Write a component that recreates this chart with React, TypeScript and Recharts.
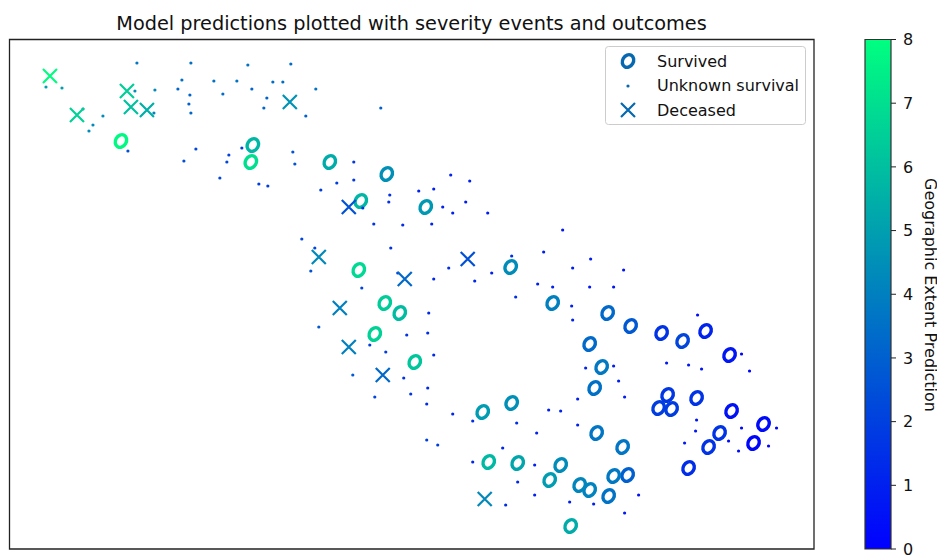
import { Scatter, ScatterChart, XAxis, YAxis, ReferenceArea, Legend, BarChart, Bar } from 'recharts'

// [x, y, geographic extent prediction]
const survived = [
  [111, 408, 7.8], [243, 404, 5.7], [241, 387, 7.0], [320, 387, 5.4], [377, 375, 4.5], [351, 348, 5.7],
  [349, 279, 6.8], [416, 342, 4.8], [501, 282, 4.4], [543, 246, 4.0], [598, 236, 3.3], [621, 223, 2.8],
  [652, 216, 1.6], [673, 208, 2.2], [696, 218, 1.1], [720, 194, 0.7], [580, 205, 3.3], [592, 182, 3.8],
  [585, 161, 3.5], [658, 154, 1.7], [649, 141, 1.9], [662, 140, 1.9], [687, 151, 1.6], [722, 138, 0.5],
  [754, 125, 0.3], [744, 106, 0.2], [710, 116, 1.6], [699, 102, 1.6], [679, 81, 1.4], [587, 116, 3.7],
  [613, 102, 3.7], [618, 74, 3.0], [604, 73, 3.8], [599, 53, 3.6], [580, 59, 4.1], [570, 64, 4.2],
  [551, 84, 4.4], [540, 69, 4.9], [561, 23, 5.4], [375, 246, 6.4], [390, 236, 5.9], [365, 215, 6.6],
  [405, 187, 6.2], [473, 137, 4.9], [502, 146, 4.5], [479, 87, 5.8], [508, 86, 5.2],
]

const deceased = [
  [40, 473, 7.9], [117, 458, 6.5], [121, 442, 6.1], [137, 439, 5.5], [67, 434, 6.6], [280, 447, 4.6],
  [339, 342, 2.6], [309, 292, 4.3], [395, 270, 3.3], [458, 290, 2.5], [330, 241, 4.0], [339, 202, 4.0],
  [373, 174, 3.3], [475, 50, 4.3],
]

const unknown = [
  [127, 486, 3.7], [181, 486, 3.5], [238, 484, 3.6], [281, 485, 3.4], [172, 469, 3.5], [204, 468, 3.5],
  [227, 468, 3.6], [263, 467, 3.4], [273, 467, 3.4], [36, 462, 5.0], [52, 461, 5.0], [125, 458, 4.5],
  [145, 459, 4.3], [168, 460, 3.2], [180, 454, 3.1], [213, 455, 3.4], [242, 460, 3.2], [306, 460, 3.6],
  [257, 451, 3.1], [254, 441, 3.2], [179, 445, 3.0], [181, 436, 3.2], [371, 441, 3.0], [296, 433, 3.0],
  [73, 440, 4.5], [144, 436, 4.1], [93, 433, 4.4], [83, 424, 4.4], [79, 418, 4.4], [118, 398, 2.5],
  [186, 400, 2.3], [174, 388, 2.4], [219, 394, 2.1], [217, 387, 2.2], [232, 401, 1.9], [283, 397, 2.6],
  [285, 385, 2.6], [210, 371, 2.2], [249, 365, 1.9], [258, 363, 1.9], [344, 387, 1.8], [344, 369, 1.8],
  [327, 366, 1.9], [311, 359, 1.9], [380, 354, 1.5], [379, 347, 1.5], [353, 341, 1.6], [364, 325, 1.6],
  [292, 310, 2.2], [305, 301, 2.2], [381, 301, 1.5], [301, 278, 2.6], [388, 276, 1.7],
  [441, 374, 1.1], [460, 368, 1.0], [409, 358, 1.0], [424, 360, 1.0], [456, 347, 0.9], [433, 342, 1.0],
  [443, 336, 1.0], [478, 336, 0.9], [393, 324, 1.4], [422, 325, 1.1], [553, 319, 0.7], [534, 297, 0.9],
  [502, 293, 1.4], [581, 290, 0.9], [439, 281, 1.4], [563, 281, 0.9], [614, 279, 0.6], [424, 270, 1.2],
  [482, 276, 1.0], [465, 268, 1.2], [528, 265, 1.0], [543, 262, 1.0], [580, 262, 0.7], [604, 262, 0.7],
  [506, 252, 1.4], [352, 261, 2.1], [419, 236, 1.3], [309, 222, 2.8], [397, 214, 1.6], [418, 216, 1.4],
  [360, 204, 2.0], [376, 197, 1.9], [424, 194, 1.3], [343, 174, 2.8], [394, 171, 1.6], [418, 161, 1.3],
  [365, 152, 2.1], [401, 155, 1.7], [417, 145, 1.4], [443, 135, 1.2], [463, 128, 1.4], [507, 126, 1.4],
  [539, 139, 1.0], [527, 116, 1.1], [417, 109, 1.9], [428, 104, 1.9], [493, 101, 1.1], [463, 87, 1.2],
  [525, 84, 1.0], [508, 67, 1.2], [525, 54, 1.0], [496, 44, 1.3],
  [562, 243, 1.0], [563, 229, 1.0], [688, 234, 0.4], [732, 195, 0.1], [740, 178, 0.1], [657, 186, 0.8],
  [679, 184, 0.7], [692, 180, 0.6], [576, 181, 1.1], [604, 183, 0.9], [609, 168, 0.9], [615, 152, 0.9],
  [568, 150, 1.0], [551, 138, 1.1], [568, 124, 1.0], [687, 129, 0.7], [686, 118, 0.7], [675, 106, 0.8],
  [732, 121, 0.2], [767, 121, 0.1], [719, 108, 0.3], [729, 98, 0.3], [759, 103, 0.1], [629, 54, 0.5],
  [560, 47, 0.9], [584, 45, 0.9], [615, 36, 0.8],
]

const colorbarTicks = [0, 1, 2, 3, 4, 5, 6, 7, 8]
const legendLabels = ['Survived', 'Unknown survival', 'Deceased']
const legendColor = '#0668b0'

// matplotlib "winter" colormap over 0..8
const winter = (v: number) => {
  const t = v / 8
  return `rgb(0,${Math.round(255 * t)},${Math.round(255 - 127.5 * t)})`
}

const toPoints = (rows: number[][]) => rows.map(r => ({ x: r[0], y: r[1], v: r[2] }))

const ringMark = (cx: number, cy: number, color: string) => (
  <ellipse cx={cx} cy={cy} rx={5.4} ry={6.6} fill="none" stroke={color} strokeWidth={3.4} transform={`rotate(30 ${cx} ${cy})`} />
)
const crossMark = (cx: number, cy: number, color: string) => (
  <path d={`M${cx - 7},${cy - 7}L${cx + 7},${cy + 7}M${cx - 7},${cy + 7}L${cx + 7},${cy - 7}`} stroke={color} strokeWidth={2.2} fill="none" />
)
const dotMark = (cx: number, cy: number, color: string) => <circle cx={cx} cy={cy} r={1.6} fill={color} />

const shapeOf = (mark: (cx: number, cy: number, color: string) => any) => (props: any) => {
  const v = props.payload?.v ?? props.v
  return mark(props.cx, props.cy, winter(v))
}

const font = 'DejaVu Sans'

function LegendBox() {
  return (
    <svg width={201} height={79} style={{ display: 'block' }}>
      <rect x={0.5} y={0.5} width={200} height={78} rx={3} fill="#fff" fillOpacity={0.8} stroke="#ccc" />
      {ringMark(23, 15, legendColor)}
      {dotMark(23, 40, legendColor)}
      {crossMark(23, 64, legendColor)}
      {legendLabels.map((l, i) => (
        <text key={l} x={52} y={20.5 + i * 24.5} fontFamily={font} fontSize={16} fill="#111">{l}</text>
      ))}
    </svg>
  )
}

export default function App() {
  return (
    <div style={{ position: 'absolute', left: 0, top: 0, width: 937, height: 555, background: '#fff' }}>
      <div style={{ position: 'absolute', left: 0, top: 0 }}>
        <ScatterChart width={937} height={555} margin={{ top: 39.5, right: 123, bottom: 6, left: 9.5 }}>
          <XAxis type="number" dataKey="x" domain={[-0.5, 804.5]} hide />
          <YAxis type="number" dataKey="y" domain={[0, 509.5]} hide />
          <ReferenceArea x1={-0.5} x2={804.5} y1={0} y2={509.5} fill="none" stroke="#222" strokeWidth={1.3} fillOpacity={0} strokeOpacity={1} />
          <text x={411.5} y={29.5} textAnchor="middle" fontFamily={font} fontSize={19.3} fill="#111">
            Model predictions plotted with severity events and outcomes
          </text>
          <Scatter name="Survived" data={toPoints(survived)} shape={shapeOf(ringMark)} isAnimationActive={false} />
          <Scatter name="Unknown survival" data={toPoints(unknown)} shape={shapeOf(dotMark)} isAnimationActive={false} />
          <Scatter name="Deceased" data={toPoints(deceased)} shape={shapeOf(crossMark)} isAnimationActive={false} />
          <Legend
            layout="vertical"
            align="center"
            verticalAlign="middle"
            content={() => <LegendBox />}
            wrapperStyle={{ left: 605, top: 46, width: 201, height: 79 }}
          />
        </ScatterChart>
      </div>
      <div style={{ position: 'absolute', left: 864, top: 0 }}>
        <BarChart
          width={73}
          height={555}
          data={[{ name: 'extent', top: 8 }]}
          margin={{ top: 39.5, right: 0, bottom: 6, left: 1 }}
          barCategoryGap={0}
        >
          <defs>
            <linearGradient id="winterGrad" x1="0" y1="0" x2="0" y2="1">
              <stop offset="0%" stopColor={winter(8)} />
              <stop offset="100%" stopColor={winter(0)} />
            </linearGradient>
          </defs>
          <XAxis dataKey="name" hide />
          <YAxis
            orientation="right"
            type="number"
            domain={[0, 8]}
            ticks={colorbarTicks}
            interval={0}
            width={46}
            axisLine={false}
            tickSize={5}
            tickMargin={7}
            tickLine={{ stroke: '#222' }}
            tick={{ fill: '#111', fontSize: 16, fontFamily: font }}
          />
          <Bar dataKey="top" fill="url(#winterGrad)" stroke="#333" strokeWidth={1.2} isAnimationActive={false} />
          <text x={60.5} y={295} textAnchor="middle" transform="rotate(90 60.5 295)" fontFamily={font} fontSize={16} fill="#111">
            Geographic Extent Prediction
          </text>
        </BarChart>
      </div>
    </div>
  )
}
